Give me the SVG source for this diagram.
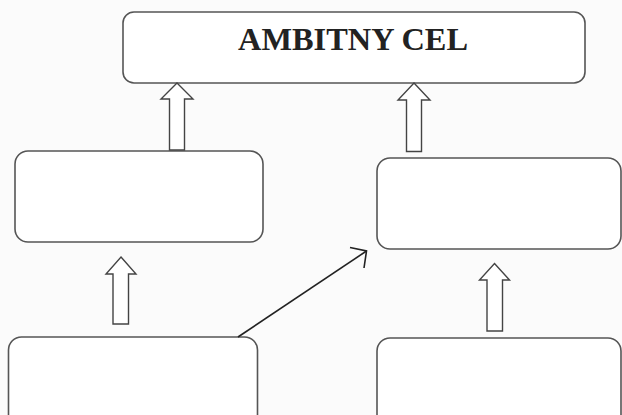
<svg xmlns="http://www.w3.org/2000/svg" width="622" height="415" viewBox="0 0 622 415">
<style>
.box{fill:#fff;stroke:#555;stroke-width:1.6}
.blk{fill:#fff;stroke:#444;stroke-width:1.4;stroke-linejoin:miter}
.ln{fill:none;stroke:#222;stroke-width:1.6}
.title{font-family:"Liberation Serif","Times New Roman",serif;font-weight:bold;font-size:32px;fill:#222}
</style>
<rect width="622" height="415" fill="#fbfbfb"/>
<g id="goal">
<rect class="box" x="123" y="12" width="462" height="71" rx="11"/>
<text class="title" x="353" y="50" text-anchor="middle" textLength="230" lengthAdjust="spacingAndGlyphs">AMBITNY CEL</text>
</g>
<g id="left-mid"><rect class="box" x="15" y="151" width="248" height="91" rx="13"/></g>
<g id="right-mid"><rect class="box" x="377" y="158" width="244" height="91" rx="13"/></g>
<g id="left-bottom"><rect class="box" x="8.5" y="337" width="249" height="95" rx="13"/></g>
<g id="right-bottom"><rect class="box" x="377" y="338" width="244" height="95" rx="13"/></g>
<g id="connectors">
<path class="blk" d="M177 83 L193 99 L184.5 99 L184.5 150 L169.5 150 L169.5 99 L161 99 Z"/>
<path class="blk" d="M414 83 L430 100 L421.5 100 L421.5 151.5 L406.5 151.5 L406.5 100 L398 100 Z"/>
<path class="blk" d="M121 257 L136 274 L128.5 274 L128.5 324 L113 324 L113 274 L106 274 Z"/>
<path class="blk" d="M494.5 263.5 L509.5 280 L502.5 280 L502.5 331 L487 331 L487 280 L479.5 280 Z"/>
<path class="ln" d="M238 337 L366.5 251"/>
<path class="ln" d="M350 247.5 L366.5 251 L364 268"/>
</g>
</svg>
